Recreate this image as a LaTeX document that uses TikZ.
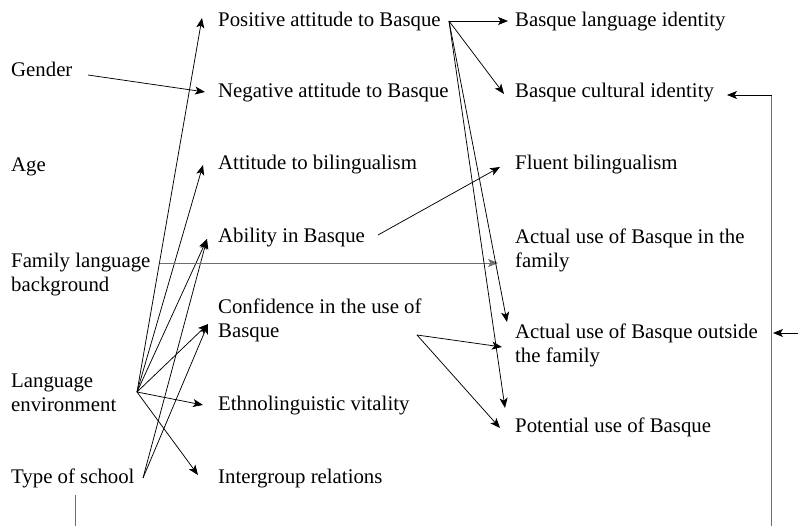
\documentclass[tikz,border=0pt]{standalone}
\usepackage{fontspec}
\setmainfont{Liberation Serif}
\usepackage{xcolor}
\usepackage{tikz}
\usetikzlibrary{positioning, arrows.meta, calc}
\definecolor{inkgrey}{HTML}{6E6E6E}

\tikzset{
  factor/.style={anchor=base west, inner sep=0pt, align=left,
                 font=\fontsize{20.8}{24}\selectfont},
  link/.style={-{Stealth[length=10pt, width=8pt, inset=2.5pt]}, line width=0.75pt},
  plain/.style={line width=0.9pt, draw=inkgrey},
}

\begin{document}
\begin{tikzpicture}[x=1pt, y=-1pt]
  \useasboundingbox (0,0) rectangle (798,526);

  % left column (multi-line nodes sit on their last baseline)
  \node[factor] (gender)  at (11,77)  {Gender};
  \node[factor] (age)     at (11,172) {Age};
  \node[factor] (famlang) at (11,292) {Family language\\background};
  \node[factor] (langenv) at (11,412) {Language\\environment};
  \node[factor] (school)  at (11,483) {Type of school};

  % middle column
  \node[factor] (posatt)     at (218,27)  {Positive attitude to Basque};
  \node[factor] (negatt)     at (218,98)  {Negative attitude to Basque};
  \node[factor] (attbil)     at (218,170) {Attitude to bilingualism};
  \node[factor] (ability)    at (218,243) {Ability in Basque};
  \node[factor] (confid)     at (218,338) {Confidence in the use of\\Basque};
  \node[factor] (ethno)      at (218,410) {Ethnolinguistic vitality};
  \node[factor] (intergroup) at (218,483) {Intergroup relations};

  % right column
  \node[factor] (langid)    at (515,27)  {Basque language identity};
  \node[factor] (cultid)    at (515,98)  {Basque cultural identity};
  \node[factor] (fluent)    at (515,170) {Fluent bilingualism};
  \node[factor] (usefam)    at (515,268) {Actual use of Basque in the\\family};
  \node[factor] (useout)    at (515,363) {Actual use of Basque outside\\the family};
  \node[factor] (potential) at (515,433) {Potential use of Basque};

  \coordinate (loopL) at (75,526);
  \coordinate (loopR) at (771,526);
  \coordinate (edge)  at (798,333);

  % gender
  \draw[link] ($(gender.base west)+(77,-2)$) -- ($(negatt.base west)+(-13,-6)$);

  % language environment
  \foreach \dest/\dx/\dy in {posatt/-16/-9, attbil/-15/-5, ability/-11/-4,
                             confid/-10/-14, ethno/-15/-5, intergroup/-20/-8}
    \draw[link] ($(langenv.base west)+(126,-20)$) -- ($(\dest.base west)+(\dx,\dy)$);

  % type of school
  \draw[link] ($(school.base west)+(132,-5)$) -- ($(ability.base west)+(-11,-4)$);
  \draw[link] ($(school.base west)+(132,-5)$) -- ($(confid.base west)+(-10,-14)$);

  % family language background
  \draw[link, draw=inkgrey] ($(famlang.base west)+(149,-29)$) -- ($(usefam.base west)+(-17,-5)$);

  % ability
  \draw[link] ($(ability.base west)+(160,-8)$) -- ($(fluent.base west)+(-15,-3)$);

  % positive attitude
  \draw[link] ($(posatt.base west)+(231,-6)$) -- ($(langid.base west)+(-7,-6)$);
  \draw[link] ($(posatt.base west)+(231,-6)$) -- ($(cultid.base west)+(-11,-4)$);
  \draw[link] ($(posatt.base west)+(231,-6)$) -- ($(useout.base west)+(-8,-41)$);
  \draw[link] ($(posatt.base west)+(231,-6)$) -- ($(potential.base west)+(-10,-25)$);

  % confidence
  \draw[link] ($(confid.base west)+(199,-3)$) -- ($(useout.base west)+(-13,-16)$);
  \draw[link] ($(confid.base west)+(199,-3)$) -- ($(potential.base west)+(-15,-5)$);

  % loop round the outside
  \draw[plain] ($(school.base west)+(64,12)$) -- (loopL);
  \draw[plain] (loopR) -- ($(cultid.base west)+(256,-3)$);
  \draw[link] ($(cultid.base west)+(256.5,-3)$) -- ($(cultid.base west)+(212,-3)$);
  \draw[link] (edge) -- ($(useout.base west)+(258,-30)$);
\end{tikzpicture}
\end{document}
